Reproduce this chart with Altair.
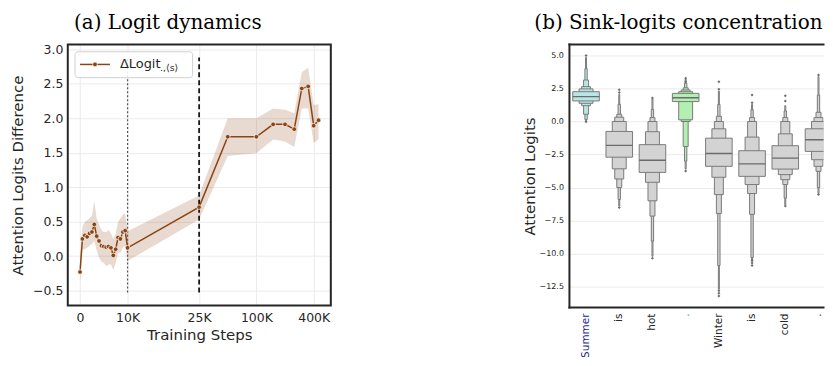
import json
import numpy as np
import pandas as pd
import altair as alt

# ---------------- Panel (a): logit dynamics ----------------
steps = [0, 500, 1000, 1500, 2000, 2500, 3000, 3500, 4000, 4500, 5000, 5500, 6000,
         6500, 7000, 7500, 8000, 8500, 9000, 9500, 10000,
         25000, 50000, 100000, 150000, 200000, 250000, 300000, 350000, 400000, 450000]
delta_mean = [-0.23, 0.25, 0.30, 0.28, 0.33, 0.35, 0.46, 0.29, 0.22, 0.15, 0.14, 0.13, 0.14,
              0.12, 0.01, 0.10, 0.27, 0.25, 0.35, 0.37, 0.12,
              0.71, 1.73, 1.73, 1.91, 1.91, 1.84, 2.43, 2.46, 1.89, 1.97]
delta_lo = [-0.40, 0.10, 0.10, 0.12, 0.15, 0.18, 0.22, 0.08, -0.02, -0.08, -0.10, -0.15, -0.12,
            -0.12, -0.20, -0.10, 0.05, 0.05, 0.12, 0.15, -0.07,
            0.53, 1.45, 1.49, 1.69, 1.66, 1.58, 2.14, 2.14, 1.64, 1.69]
delta_hi = [-0.05, 0.42, 0.50, 0.52, 0.55, 0.58, 0.80, 0.55, 0.45, 0.38, 0.35, 0.35, 0.38,
            0.33, 0.25, 0.32, 0.50, 0.55, 0.60, 0.62, 0.36,
            0.88, 2.00, 2.00, 2.14, 2.12, 2.07, 2.67, 2.73, 2.19, 2.20]
tick_steps = [0, 10000, 25000, 100000, 400000]
tick_labels = ["0", "10K", "25K", "100K", "400K"]
y_ticks_a = [-0.5, 0.0, 0.5, 1.0, 1.5, 2.0, 2.5, 3.0]
title_a = "(a) Logit dynamics"
legend_main = "ΔLogit"
legend_sub = ".,⟨s⟩"


def xpos(s):
    """Custom axis transform: linear 0-10K, linear 10K-25K, log beyond 25K."""
    if s <= 10000:
        return s / 10000 * 47.7
    if s <= 25000:
        return 47.7 + (s - 10000) / 15000 * 71.8
    return 119.5 + np.log(s / 25000) / np.log(4) * 57.5


BROWN = "#8B4513"
TXT = "#262626"
FRAME = "#262626"
TITLE_FONT = "DejaVu Serif"
TITLE_SIZE = 20

dfa = pd.DataFrame({"step": steps, "mean": delta_mean, "lo": delta_lo, "hi": delta_hi})
dfa["pos"] = [xpos(s) for s in steps]

tick_pos = [round(xpos(s), 3) for s in tick_steps]
label_expr = " : ".join(
    f"abs(datum.value - {p}) < 0.5 ? '{l}'" for p, l in zip(tick_pos, tick_labels)
) + " : ''"

WA, HA = 264, 262
xs_a = alt.Scale(domain=[-12.3, 251.7], nice=False, zero=False)
ys_a = alt.Scale(domain=[-0.716, 3.067], nice=False, zero=False)

x_axis_a = alt.Axis(values=tick_pos, tickCount=20, labelExpr=label_expr, title="Training Steps",
                    labelFontSize=12.5, titleFontSize=15, labelPadding=6, titlePadding=4,
                    labelOverlap=False)
y_axis_a = alt.Axis(values=y_ticks_a, tickCount=20, format=".1f",
                    title="Attention Logits Difference",
                    labelFontSize=12.5, titleFontSize=15, labelPadding=5, titlePadding=7,
                    labelOverlap=False)

base = alt.Chart(dfa)
band = base.mark_area(color=BROWN, opacity=0.2).encode(
    x=alt.X("pos:Q", scale=xs_a, axis=x_axis_a),
    y=alt.Y("lo:Q", scale=ys_a, axis=y_axis_a),
    y2="hi:Q",
)
line = base.mark_line(color=BROWN, strokeWidth=1.5).encode(x="pos:Q", y="mean:Q")
pts = base.mark_circle(color=BROWN, size=22, opacity=1, stroke="white", strokeWidth=0.7).encode(
    x="pos:Q", y="mean:Q")

vl_df = pd.DataFrame({"pos": [xpos(10000), xpos(25000)], "y0": [-0.527, -0.527],
                      "y1": [2.877, 2.877], "kind": ["dot", "dash"]})
vdot = alt.Chart(vl_df).transform_filter("datum.kind == 'dot'").mark_rule(
    color="#555555", strokeWidth=1.2, strokeDash=[2, 2]).encode(x="pos:Q", y="y0:Q", y2="y1:Q")
vdash = alt.Chart(vl_df).transform_filter("datum.kind == 'dash'").mark_rule(
    color="black", strokeWidth=1.6, strokeDash=[5, 3]).encode(x="pos:Q", y="y0:Q", y2="y1:Q")

one = pd.DataFrame({"a": [0]})
leg_box = alt.Chart(one).mark_rect(fill="white", fillOpacity=0.85, stroke="#d0d0d0",
                                   strokeWidth=1, cornerRadius=3).encode(
    x=alt.value(7.3), x2=alt.value(125.3), y=alt.value(7.3), y2=alt.value(33.3))
leg_line = alt.Chart(one).mark_rule(color=BROWN, strokeWidth=1.5).encode(
    x=alt.value(12.3), x2=alt.value(42.3), y=alt.value(20))
leg_pt = alt.Chart(one).mark_circle(color=BROWN, size=22, opacity=1, stroke="white",
                                    strokeWidth=0.7).encode(x=alt.value(27.3), y=alt.value(20))
leg_txt = alt.Chart(one).mark_text(align="left", baseline="middle", fontSize=13,
                                   font="DejaVu Sans", color=TXT).encode(
    x=alt.value(52.3), y=alt.value(19.5), text=alt.value(legend_main))
leg_sub = alt.Chart(one).mark_text(align="left", baseline="middle", fontSize=9.5,
                                   font="DejaVu Sans", color=TXT).encode(
    x=alt.value(92.5), y=alt.value(23.5), text=alt.value(legend_sub))
frame_a = alt.Chart(one).mark_rect(fillOpacity=0, stroke=FRAME, strokeWidth=2).encode(
    x=alt.value(0), x2=alt.value(WA), y=alt.value(0), y2=alt.value(HA))

left_plot = alt.layer(band, vdot, vdash, line, pts, leg_box, leg_line, leg_pt, leg_txt,
                      leg_sub, frame_a).properties(width=WA, height=HA)

TH = 33.7
left_title = alt.Chart(one).mark_text(align="left", baseline="alphabetic", font=TITLE_FONT,
                                      fontSize=TITLE_SIZE, color="black").encode(
    x=alt.value(6.3), y=alt.value(20), text=alt.value(title_a)
).properties(width=WA, height=TH)

left_col = alt.vconcat(left_title, left_plot, spacing=0)

# ---------------- Panel (b): sink-logits concentration ----------------
title_b = "(b) Sink-logits concentration"
tokens = ["Summer", "is", "hot", ".", "Winter", "is", "cold", "."]
token_color = ["#1f1f99", TXT, TXT, "#1aa31a", TXT, TXT, TXT, TXT]
medians = [1.89, -1.80, -2.93, 1.80, -2.42, -3.20, -2.77, -1.38]
level_lo = [
    [1.56, 1.38, 1.20, 0.55, 0.15, 0.05],
    [-2.70, -3.58, -4.35, -5.00, -5.90, -6.40],
    [-3.85, -4.60, -6.00, -7.16, -9.05, -10.20],
    [1.51, 0.13, 0.00, -1.89, -3.00, -3.60],
    [-3.39, -4.22, -5.53, -6.96, -10.90, -12.70],
    [-4.15, -4.77, -5.45, -7.03, -10.30, -10.60],
    [-3.60, -4.02, -4.40, -4.77, -5.80, -6.30],
    [-2.26, -2.89, -3.39, -3.77, -5.00, -5.45],
]
level_hi = [
    [2.26, 2.47, 2.64, 3.14, 4.00, 4.85],
    [-0.75, 0.00, 0.33, 0.55, 1.30, 2.05],
    [-1.75, -0.77, 0.00, 0.30, 0.90, 1.70],
    [2.13, 2.26, 2.39, 2.55, 2.90, 3.20],
    [-1.26, -0.55, 0.00, 0.40, 1.30, 2.30],
    [-2.21, -1.18, 0.00, 0.30, 0.90, 1.30],
    [-1.83, -0.93, 0.00, 0.30, 0.80, 1.20],
    [-0.55, 0.00, 0.30, 0.70, 2.00, 3.40],
]
outliers = [
    [5.0, -0.02],
    [2.4, 2.2, -6.5],
    [1.78, -10.35],
    [3.27, 3.02, -3.75],
    [3.02, 2.44, -12.8, -13.0, -13.2],
    [2.01, 1.43, -10.5, -10.7, -10.9],
    [1.96, 1.56, -6.4],
    [3.52, -5.53],
]
y_ticks_b = [5.0, 2.5, 0.0, -2.5, -5.0, -7.5, -10.0, -12.5]

level_width = [0.8, 0.42, 0.27, 0.15, 0.07, 0.03]
token_fill = ["#b9e5e5", "#d3d3d3", "#d3d3d3", "#b3eeb3", "#d3d3d3", "#d3d3d3", "#d3d3d3", "#d3d3d3"]

rows = []
for i in range(len(tokens)):
    for k in reversed(range(len(level_width))):
        rows.append({"idx": i, "level": k, "lo": level_lo[i][k], "hi": level_hi[i][k],
                     "w": level_width[k], "fill": token_fill[i]})
box_df = pd.DataFrame(rows)
med_df = pd.DataFrame({"idx": list(range(len(tokens))), "median": medians})
out_df = pd.DataFrame([{"idx": i, "v": v} for i, vs in enumerate(outliers) for v in vs])
tok_df = pd.DataFrame({"idx": list(range(len(tokens))), "tok": tokens, "col": token_color})

WB, HB = 255, 264
xs_b = alt.Scale(domain=[-0.5, -0.5 + WB / 33.33], nice=False, zero=False)
ys_b = alt.Scale(domain=[-14.08, 5.83], nice=False, zero=False)

y_axis_b = alt.Axis(values=y_ticks_b, tickCount=20, format=".1f", title="Attention Logits",
                    labelFontSize=8, titleFontSize=15, labelPadding=6, titlePadding=2,
                    labelOverlap=False)

boxes = alt.Chart(box_df).transform_calculate(
    x0="datum.idx - datum.w / 2", x1="datum.idx + datum.w / 2"
).mark_rect(stroke="#7a7a7a", strokeWidth=1, clip=True).encode(
    x=alt.X("x0:Q", scale=xs_b, axis=None),
    x2="x1:Q",
    y=alt.Y("lo:Q", scale=ys_b, axis=y_axis_b),
    y2="hi:Q",
    fill=alt.Fill("fill:N", scale=None),
)
meds = alt.Chart(med_df).transform_calculate(
    x0="datum.idx - 0.4", x1="datum.idx + 0.4"
).mark_rule(color="#6b6b6b", strokeWidth=1.3, clip=True).encode(
    x="x0:Q", x2="x1:Q", y="median:Q")
outs = alt.Chart(out_df).mark_point(shape="diamond", filled=True, size=9, color="#6e6e6e",
                                    opacity=1, clip=True).encode(x="idx:Q", y="v:Q")
fr_top = alt.Chart(one).mark_rule(color=FRAME, strokeWidth=2, strokeCap="square").encode(
    x=alt.value(0), x2=alt.value(WB), y=alt.value(0))
fr_bot = alt.Chart(one).mark_rule(color=FRAME, strokeWidth=2, strokeCap="square").encode(
    x=alt.value(0), x2=alt.value(WB), y=alt.value(HB))
fr_left = alt.Chart(one).mark_rule(color=FRAME, strokeWidth=2, strokeCap="square").encode(
    x=alt.value(0), y=alt.value(0), y2=alt.value(HB))

right_plot = alt.layer(boxes, meds, outs, fr_top, fr_bot, fr_left).properties(width=WB, height=HB)

right_title = alt.Chart(one).mark_text(align="right", baseline="alphabetic", font=TITLE_FONT,
                                       fontSize=TITLE_SIZE, color="black").encode(
    x=alt.value(WB - 1), y=alt.value(20), text=alt.value(title_b)
).properties(width=WB, height=TH)

right_labels = alt.Chart(tok_df).mark_text(angle=270, align="right", baseline="middle",
                                           fontSize=10.5, font="DejaVu Sans", clip=True).encode(
    x=alt.X("idx:Q", scale=xs_b, axis=None),
    y=alt.value(4),
    text="tok:N",
    color=alt.Color("col:N", scale=None),
).properties(width=WB, height=48)

right_col = alt.vconcat(right_title, right_plot, right_labels, spacing=0)

chart = alt.hconcat(left_col, right_col, spacing=190.5).properties(
    padding={"left": 2, "top": 0, "right": 0, "bottom": 0}
).configure_view(stroke=None).configure_axis(
    gridColor="#ebebeb", gridWidth=1, domain=False, ticks=False,
    labelFont="DejaVu Sans", titleFont="DejaVu Sans", titleFontWeight="normal",
    labelColor=TXT, titleColor=TXT,
)

chart.save("out.html", embed_options={"renderer": "svg", "actions": False})
